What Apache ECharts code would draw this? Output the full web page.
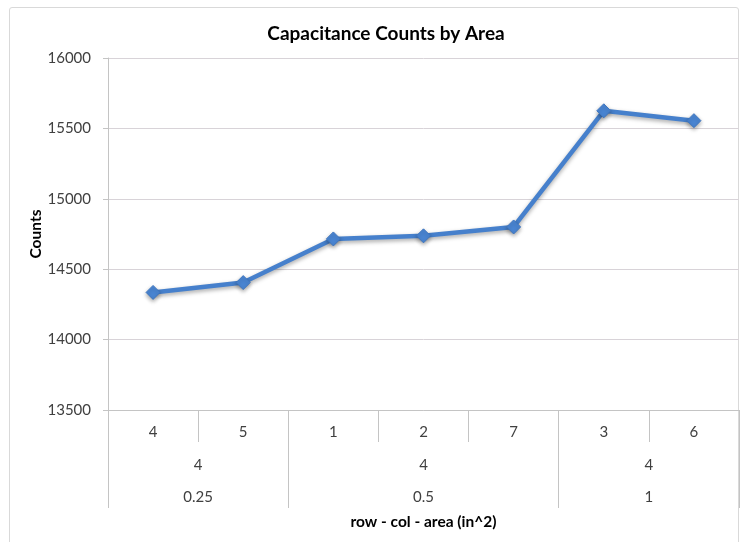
<!DOCTYPE html>
<html>
<head>
<meta charset="utf-8">
<script src="https://cdn.jsdelivr.net/npm/echarts@6/dist/echarts.min.js"></script>
<style>
  html, body { margin: 0; padding: 0; background: #fff; }
  #wrap { position: relative; width: 740px; height: 542px; overflow: hidden; }
  #frame { position: absolute; left: 9px; top: 7px; width: 730px; height: 560px;
           border: 1px solid #d9d9d9; box-sizing: border-box; border-radius: 3px; }
  #chart { position: absolute; left: 0; top: 0; width: 740px; height: 542px; }
</style>
</head>
<body>
<div id="wrap">
  <div id="frame"></div>
  <div id="chart"></div>
</div>
<script>
// Category levels: column (inner), row and area (outer groups)
const cols = ['4', '5', '1', '2', '7', '3', '6'];
const groupSizes = [2, 3, 2];
const rowLabels = ['4', '4', '4'];
const areaLabels = ['0.25', '0.5', '1'];

// Capacitance counts per sensor pad
const counts = [14335, 14405, 14715, 14737, 14800, 15625, 15555];

// Y axis range
const yMin = 13500, yMax = 16000, yStep = 500;

// Group boundaries and centres in category units, derived from the group sizes
const bounds = [0];
groupSizes.forEach(function (n) { bounds.push(bounds[bounds.length - 1] + n); });
const centres = groupSizes.map(function (n, i) { return bounds[i] + n / 2; });

const FONT = 'Lato';
const axisGray = '#c4c4c4';
const textColor = '#404040';

function groupFormatter(labels) {
  return function (v) {
    const i = centres.findIndex(function (c) { return Math.abs(c - v) < 1e-6; });
    return i >= 0 ? labels[i] : '';
  };
}

const chart = echarts.init(document.getElementById('chart'), null, { renderer: 'canvas' });

chart.setOption({
  backgroundColor: 'transparent',
  animation: false,
  title: {
    text: 'Capacitance Counts by Area',
    left: 381, top: 19, textAlign: 'center',
    textStyle: { fontFamily: FONT, fontSize: 19, fontWeight: 'bold', color: '#000' }
  },
  grid: { left: 108, right: 1, top: 58, bottom: 132, containLabel: false },
  xAxis: [
    {
      type: 'category', data: cols, position: 'bottom', boundaryGap: true,
      axisLine: { show: true, lineStyle: { color: axisGray, width: 1 } },
      axisTick: { show: true, interval: 0, length: 32, lineStyle: { color: axisGray } },
      axisLabel: { interval: 0, margin: 15, fontFamily: FONT, fontSize: 15, color: textColor },
      splitLine: { show: false }
    },
    {
      type: 'value', min: 0, max: bounds[bounds.length - 1], position: 'bottom',
      axisLine: { show: false },
      axisTick: { show: true, customValues: bounds, length: 98, lineStyle: { color: axisGray } },
      axisLabel: { show: true, customValues: centres, formatter: groupFormatter(rowLabels),
                   margin: 48, fontFamily: FONT, fontSize: 15, color: textColor },
      splitLine: { show: false }
    },
    {
      type: 'value', min: 0, max: bounds[bounds.length - 1], position: 'bottom',
      axisLine: { show: false },
      axisTick: { show: false },
      axisLabel: { show: true, customValues: centres, formatter: groupFormatter(areaLabels),
                   margin: 80, fontFamily: FONT, fontSize: 15, color: textColor },
      splitLine: { show: false },
      name: 'row - col - area (in^2)', nameLocation: 'middle', nameGap: 104,
      nameMoveOverlap: false,
      nameTextStyle: { fontFamily: FONT, fontSize: 15.5, fontWeight: 'bold', color: '#000' }
    }
  ],
  yAxis: {
    type: 'value', min: yMin, max: yMax, interval: yStep,
    axisLine: { show: true, lineStyle: { color: axisGray } },
    axisTick: { show: true, length: 5, lineStyle: { color: axisGray } },
    axisLabel: { margin: 17, fontFamily: FONT, fontSize: 15, color: textColor,
                 formatter: function (v) { return String(v); } },
    splitLine: { show: true, lineStyle: { color: '#d8d3d8', width: 1 } },
    name: 'Counts', nameLocation: 'middle', nameGap: 64,
    nameMoveOverlap: false,
    nameTextStyle: { fontFamily: FONT, fontSize: 15.5, fontWeight: 'bold', color: '#000' }
  },
  series: [{
    type: 'line', xAxisIndex: 0, yAxisIndex: 0, data: counts,
    symbol: 'diamond', symbolSize: 14,
    lineStyle: { color: '#4680cc', width: 4.5, shadowColor: 'rgba(0,0,0,0.35)', shadowBlur: 4, shadowOffsetY: 2 },
    itemStyle: { color: '#4a86d4', borderColor: '#3f76bf', borderWidth: 1,
                 shadowColor: 'rgba(0,0,0,0.35)', shadowBlur: 4, shadowOffsetY: 2 },
    emphasis: { disabled: true }
  }]
});
</script>
</body>
</html>
